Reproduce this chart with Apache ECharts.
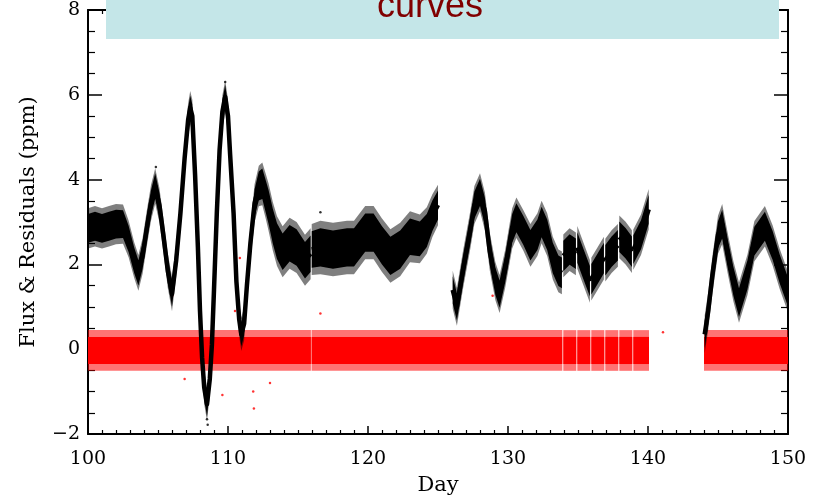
<!DOCTYPE html>
<html><head><meta charset="utf-8">
<script src="https://cdn.jsdelivr.net/npm/echarts@6/dist/echarts.min.js"></script>
<style>html,body{margin:0;padding:0;background:#fff}#c{width:819px;height:501px}</style>
</head><body><div id="c"></div>
<script>
// ---- data ----
const xTicks = [100, 110, 120, 130, 140, 150];
const yTicks = [-2, 0, 2, 4, 6, 8];
const titleText = 'curves';
const xName = 'Day';
const yName = 'Flux & Residuals (ppm)';

// flux light curve centre line (null = gap in the data)
const fluxDays = [
  100.0,100.5,101.0,101.5,102.0,102.5,102.9,103.3,103.6,103.9,104.2,104.5,104.8,105.1,105.4,105.7,106.0,106.3,106.6,106.9,
  107.15,107.3,107.45,107.65,107.85,108.0,108.15,108.3,108.5,108.7,108.85,109.0,109.2,109.4,109.6,109.8,110.0,110.15,110.4,110.6,
  110.8,110.95,111.15,111.35,111.6,111.9,112.2,112.45,112.7,112.9,113.2,113.5,113.9,114.4,114.9,115.5,115.9,null,
  115.98,116.6,117.5,118.5,119.0,119.8,120.4,121.0,121.6,122.3,123.0,123.7,124.2,124.6,125.0,null,
  126.05,126.35,126.8,127.3,127.6,128.0,128.35,128.7,129.1,129.4,129.8,130.3,130.6,131.1,131.6,132.1,132.4,132.8,133.2,133.6,133.85,null,
  133.95,134.4,134.85,null,
  134.95,135.4,135.85,null,
  135.95,136.4,136.85,null,
  136.95,137.4,137.85,null,
  137.95,138.4,138.85,null,
  138.95,139.5,140.05,null,
  144.05,144.3,144.6,145.0,145.3,145.7,146.1,146.5,147.1,147.6,148.35,148.9,149.4,150.0
];
const fluxValues = [
  2.85,2.9,2.85,2.9,2.95,2.95,2.6,2.1,1.8,2.2,2.85,3.45,3.85,3.4,2.65,1.85,1.3,2.1,3.2,4.5,
  5.4,5.7,5.5,4.1,2.4,0.9,-0.2,-0.9,-1.3,-0.7,0.1,1.4,3.2,4.7,5.6,5.95,5.5,4.6,3.2,1.6,
  0.7,0.35,0.6,1.5,2.5,3.45,3.85,3.9,3.6,3.35,2.9,2.55,2.3,2.5,2.4,2.1,2.25,null,
  2.35,2.4,2.35,2.4,2.4,2.75,2.75,2.45,2.2,2.35,2.65,2.6,2.8,3.15,3.4,null,
  1.4,1.0,1.9,2.8,3.4,3.7,3.25,2.3,1.6,1.3,1.9,2.85,3.1,2.8,2.45,2.7,3.0,2.7,2.15,1.85,1.8,null,
  2.2,2.35,2.25,null,
  2.4,2.0,1.6,null,
  1.65,1.9,2.15,null,
  2.1,2.3,2.45,null,
  2.65,2.5,2.3,null,
  2.35,2.7,3.3,null,
  0.35,0.9,1.75,2.7,2.95,2.25,1.6,1.1,1.75,2.55,2.9,2.45,1.9,1.35
];
// vertical half-spread of the dense flux scatter around the centre line
const fluxSpread = [
  0.34,0.34,0.34,0.34,0.34,0.33,0.31,0.3,0.3,0.3,0.3,0.3,0.3,0.29,0.29,0.29,0.29,0.28,0.28,0.28,
  0.28,0.28,0.28,0.28,0.28,0.28,0.28,0.28,0.28,0.28,0.28,0.28,0.28,0.28,0.28,0.28,0.28,0.28,0.28,0.28,
  0.28,0.28,0.28,0.28,0.3,0.32,0.34,0.36,0.38,0.4,0.41,0.42,0.43,0.43,0.43,0.43,0.43,null,
  0.43,0.45,0.45,0.45,0.45,0.45,0.45,0.45,0.45,0.45,0.43,0.41,0.39,0.36,0.34,null,
  0.32,0.32,0.32,0.32,0.32,0.32,0.32,0.32,0.32,0.32,0.32,0.34,0.34,0.34,0.36,0.36,0.36,0.36,0.36,0.36,0.36,null,
  0.36,0.36,0.36,null,
  0.36,0.36,0.36,null,
  0.36,0.36,0.36,null,
  0.36,0.36,0.36,null,
  0.36,0.36,0.36,null,
  0.34,0.34,0.34,null,
  0.32,0.32,0.32,0.32,0.34,0.34,0.34,0.34,0.34,0.34,0.34,0.34,0.34,0.34
];
const fluxOutliers = [[108.5,-1.65],[108.55,-1.78],[116.6,3.23],[104.85,4.3],[109.8,6.3]];

// residuals: time spans with data, and their spread around zero
const residualSegments = [
  [100.0,115.92],[115.97,133.88],[133.95,134.88],[134.95,135.88],[135.95,136.88],
  [136.95,137.88],[137.95,138.88],[138.95,140.07],[144.0,150.0]
];
const residualCenter = -0.03;
const residualCore = 0.32;
const residualEdge = 0.48;
const residualOutliers = [
  [106.0,1.4],[106.02,1.26],[106.9,-0.7],[110.85,2.15],[110.5,0.9],[109.6,-1.08],
  [111.8,-1.0],[111.85,-1.4],[116.6,0.84],[128.9,1.26],[141.07,0.4],[113.0,-0.8]
];

// ---- build ----
const segs = [];
(function(){ let cur = [];
  for (let i = 0; i < fluxDays.length; i++) {
    if (fluxValues[i] == null) { if (cur.length) segs.push(cur); cur = []; }
    else cur.push(i);
  }
  if (cur.length) segs.push(cur);
})();

const chart = echarts.init(document.getElementById('c'), null, {renderer: 'canvas'});
const tickFont = {fontFamily: 'DejaVu Serif', fontSize: 19, color: '#000'};
const nameFont = {fontFamily: 'DejaVu Serif', fontSize: 21, color: '#000'};
const lineStyle = {color: '#000', width: 2};
function xAx(pos, show) {
  return {
    type: 'value', position: pos, min: xTicks[0], max: xTicks[xTicks.length-1], interval: xTicks[1]-xTicks[0],
    axisLine: {show: true, onZero: false, lineStyle: lineStyle},
    axisTick: {show: true, inside: true, length: 8, lineStyle: {color: '#000', width: 1.5}},
    minorTick: {show: true, splitNumber: 10, length: 4, lineStyle: {color: '#000', width: 1.2}},
    splitLine: {show: false},
    axisLabel: Object.assign({show: show, margin: 16}, tickFont),
    name: show ? xName : '', nameLocation: 'middle', nameGap: 41, nameTextStyle: nameFont
  };
}
function yAx(pos, show) {
  return {
    type: 'value', position: pos, min: yTicks[0], max: yTicks[yTicks.length-1], interval: yTicks[1]-yTicks[0],
    axisLine: {show: true, onZero: false, lineStyle: lineStyle},
    axisTick: {show: true, inside: true, length: 14, lineStyle: {color: '#000', width: 1.5}},
    minorTick: {show: true, splitNumber: 4, length: 7, lineStyle: {color: '#000', width: 1.2}},
    splitLine: {show: false},
    axisLabel: Object.assign({show: show, margin: 8, formatter: v => v < 0 ? '\u2212' + (-v) : String(v)}, tickFont),
    name: show ? yName : '', nameLocation: 'middle', nameGap: 49, nameTextStyle: nameFont
  };
}

chart.setOption({
  animation: false,
  grid: {left: 88, right: 31, top: 10, bottom: 64, containLabel: false},
  xAxis: [xAx('bottom', true), xAx('top', false)],
  yAxis: [yAx('left', true), yAx('right', false)],
  series: [
    {
      type: 'custom', name: 'residuals', coordinateSystem: 'cartesian2d', clip: true, z: 2,
      data: residualSegments,
      renderItem: function (params, api) {
        const a = api.coord([api.value(0), residualCenter + residualEdge]);
        const b = api.coord([api.value(1), residualCenter - residualEdge]);
        const c = api.coord([api.value(0), residualCenter + residualCore]);
        const d = api.coord([api.value(1), residualCenter - residualCore]);
        return {type: 'group', children: [
          {type: 'rect', shape: {x: a[0], y: a[1], width: b[0]-a[0], height: b[1]-a[1]}, style: {fill: 'rgba(255,0,0,0.55)'}},
          {type: 'rect', shape: {x: c[0], y: c[1], width: d[0]-c[0], height: d[1]-c[1]}, style: {fill: '#ff0000'}}
        ]};
      }
    },
    {
      type: 'scatter', name: 'residual outliers', data: residualOutliers, symbolSize: 2.5, z: 3,
      itemStyle: {color: '#ff0000'}
    },
    {
      type: 'custom', name: 'flux', coordinateSystem: 'cartesian2d', clip: true, z: 4,
      data: segs.map(s => [fluxDays[s[0]], fluxDays[s[s.length-1]]]),
      renderItem: function (params, api) {
        const seg = segs[params.dataIndex];
        const band = k => {
          const up = [], lo = [];
          seg.forEach(i => {
            up.push(api.coord([fluxDays[i], fluxValues[i] + k*fluxSpread[i]]));
            lo.push(api.coord([fluxDays[i], fluxValues[i] - k*fluxSpread[i]]));
          });
          return up.concat(lo.reverse());
        };
        const centre = seg.map(i => api.coord([fluxDays[i], fluxValues[i]]));
        return {type: 'group', children: [
          {type: 'polygon', shape: {points: band(1.4)}, style: {fill: 'rgba(0,0,0,0.5)'}},
          {type: 'polygon', shape: {points: band(1)}, style: {fill: '#000'}},
          {type: 'polyline', shape: {points: centre}, style: {stroke: '#000', lineWidth: 4.5, fill: null, lineJoin: 'round'}}
        ]};
      }
    },
    {
      type: 'scatter', name: 'flux outliers', data: fluxOutliers, symbolSize: 2.5, z: 5,
      itemStyle: {color: '#000'}
    }
  ],
  graphic: [
    {type: 'rect', z: 100, left: 106, top: 0, shape: {width: 673, height: 39}, style: {fill: '#c4e6e8'}},
    {type: 'text', z: 101, x: 430, y: 7, style: {text: titleText, fill: '#800000',
      font: '36px "Liberation Sans", Arial, sans-serif', align: 'center', verticalAlign: 'middle'}}
  ]
});
</script>
</body></html>
